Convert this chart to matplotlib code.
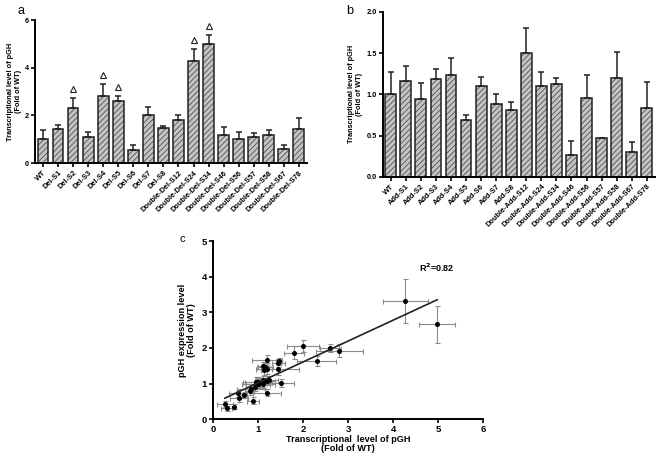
import numpy as np
import matplotlib.pyplot as plt

plt.rcParams['font.family'] = ['Liberation Sans', 'DejaVu Sans']
plt.rcParams['font.weight'] = 'bold'
plt.rcParams['hatch.linewidth'] = 0.6

# panel a: deletion mutants
del_names = ['WT', 'Del-S1', 'Del-S2', 'Del-S3', 'Del-S4', 'Del-S5', 'Del-S6', 'Del-S7', 'Del-S8',
             'Double-Del-S12', 'Double-Del-S24', 'Double-Del-S34', 'Double-Del-S46', 'Double-Del-S56',
             'Double-Del-S57', 'Double-Del-S58', 'Double-Del-S67', 'Double-Del-S78']
del_mean = [1.0, 1.45, 2.3, 1.1, 2.8, 2.6, 0.55, 2.0, 1.47, 1.8, 4.27, 4.98, 1.2, 1.0, 1.1, 1.2, 0.58, 1.43]
del_err = [0.37, 0.15, 0.43, 0.2, 0.52, 0.23, 0.2, 0.35, 0.07, 0.22, 0.5, 0.4, 0.33, 0.3, 0.17, 0.17, 0.2, 0.47]
del_signif = ['Del-S2', 'Del-S4', 'Del-S5', 'Double-Del-S24', 'Double-Del-S34']

# panel b: addition mutants
add_names = ['WT', 'Add-S1', 'Add-S2', 'Add-S3', 'Add-S4', 'Add-S5', 'Add-S6', 'Add-S7', 'Add-S8',
             'Double-Add-S12', 'Double-Add-S24', 'Double-Add-S34', 'Double-Add-S46', 'Double-Add-S56',
             'Double-Add-S57', 'Double-Add-S58', 'Double-Add-S67', 'Double-Add-S78']
add_mean = [1.0, 1.16, 0.94, 1.19, 1.23, 0.69, 1.1, 0.88, 0.81, 1.5, 1.1, 1.13, 0.26, 0.95, 0.47, 1.2, 0.30, 0.84]
add_err = [0.27, 0.18, 0.2, 0.12, 0.21, 0.06, 0.11, 0.13, 0.1, 0.3, 0.17, 0.07, 0.18, 0.29, 0.0, 0.31, 0.12, 0.31]

# panel c: expression level vs transcriptional level (del mutants then add mutants)
expr_del = [1.0, 1.58, 1.63, 1.05, 1.92, 2.0, 0.72, 2.05, 1.62, 1.87, 3.33, 2.67, 1.65, 1.05, 1.1, 1.08, 0.58, 1.4]
expr_del_err = [0.15, 0.12, 0.15, 0.1, 0.18, 0.12, 0.1, 0.16, 0.1, 0.18, 0.62, 0.52, 0.15, 0.12, 0.1, 0.12, 0.1, 0.15]
expr_add = [1.0, 1.47, 0.9, 1.42, 1.1, 0.68, 1.48, 0.52, 0.78, 1.02, 0.98, 1.38, 0.43, 1.05, 0.35, 0.74, 0.30, 0.85]
expr_add_err = [0.12, 0.12, 0.1, 0.15, 0.12, 0.08, 0.12, 0.1, 0.1, 0.12, 0.1, 0.15, 0.08, 0.12, 0.06, 0.1, 0.08, 0.12]

fig = plt.figure(figsize=(6.6, 4.57), dpi=100)


def style_axes(ax, fs):
    for s in ['top', 'right']:
        ax.spines[s].set_visible(False)
    for s in ['left', 'bottom']:
        ax.spines[s].set_linewidth(1.4)
    ax.tick_params(width=1.2, length=3, labelsize=fs, pad=1.5)


def bar_panel(ax, names, mean, err, ymax, yticks, fmt):
    x = np.arange(len(names))
    ax.bar(x, mean, width=0.72, color='#c4c4c4', edgecolor='#505050', hatch='//////', linewidth=0)
    ax.bar(x, mean, width=0.72, fill=False, edgecolor='#222222', linewidth=1.1)
    ax.errorbar(x, mean, yerr=[np.zeros(len(err)), err], fmt='none', ecolor='#222222',
                elinewidth=1.1, capsize=2.2, capthick=1.1)
    ax.set_xlim(-0.53, len(names) - 0.47)
    ax.set_ylim(0, ymax)
    ax.set_yticks(yticks)
    ax.set_yticklabels([fmt.format(v) for v in yticks])
    ax.set_xticks(x)
    ax.set_xticklabels(names, rotation=45, ha='right', rotation_mode='anchor')
    style_axes(ax, 5.3)
    ax.set_ylabel('Transcriptional level of pGH\n(Fold of WT)', fontsize=5.3, fontweight='bold', labelpad=2)


# panel a
ax_a = fig.add_axes([0.053, 0.643, 0.412, 0.313])
bar_panel(ax_a, del_names, del_mean, del_err, 6, [0, 2, 4, 6], '{:.0f}')
for n in del_signif:
    i = del_names.index(n)
    ax_a.plot(i, del_mean[i] + del_err[i] + 0.38, marker='^', ms=4.5, mfc='white', mec='#222222', mew=0.8)
fig.text(0.027, 0.975, 'a', fontsize=9, fontweight='normal', va='center')

# panel b
ax_b = fig.add_axes([0.580, 0.613, 0.412, 0.361])
bar_panel(ax_b, add_names, add_mean, add_err, 2.0, [0.0, 0.5, 1.0, 1.5, 2.0], '{:.1f}')
fig.text(0.525, 0.975, 'b', fontsize=9, fontweight='normal', va='center')

# panel c
ax_c = fig.add_axes([0.323, 0.083, 0.409, 0.389])
tx = np.array(del_mean + add_mean)
txe = np.array(del_err + add_err)
ey = np.array(expr_del + expr_add)
eye = np.array(expr_del_err + expr_add_err)
ax_c.errorbar(tx, ey, xerr=txe, yerr=eye, fmt='none', ecolor='#8a8a8a', elinewidth=0.8,
              capsize=1.8, capthick=0.8)
ax_c.plot(tx, ey, 'o', color='black', ms=2.6, linestyle='none')
slope, icpt = np.polyfit(tx, ey, 1)
xl = np.array([tx.min(), tx.max()])
ax_c.plot(xl, slope * xl + icpt, color='#222222', lw=1.2)
ax_c.set_xlim(0, 6)
ax_c.set_ylim(0, 5)
ax_c.set_xticks(range(0, 7))
ax_c.set_yticks(range(0, 6))
style_axes(ax_c, 6.8)
ax_c.set_xlabel('Transcriptional  level of pGH\n(Fold of WT)', fontsize=6.6, fontweight='bold',
                labelpad=0.5, linespacing=1.05)
ax_c.set_ylabel('pGH expression level\n(Fold of WT)', fontsize=6.6, fontweight='bold', labelpad=4,
                linespacing=1.05)
ax_c.text(4.98, 4.25, r'R$^\mathbf{2}$=0.82', fontsize=6.5, fontweight='bold', ha='center', va='center')
fig.text(0.272, 0.478, 'c', fontsize=8, fontweight='normal', va='center')

fig.savefig('out.png', dpi=100)
